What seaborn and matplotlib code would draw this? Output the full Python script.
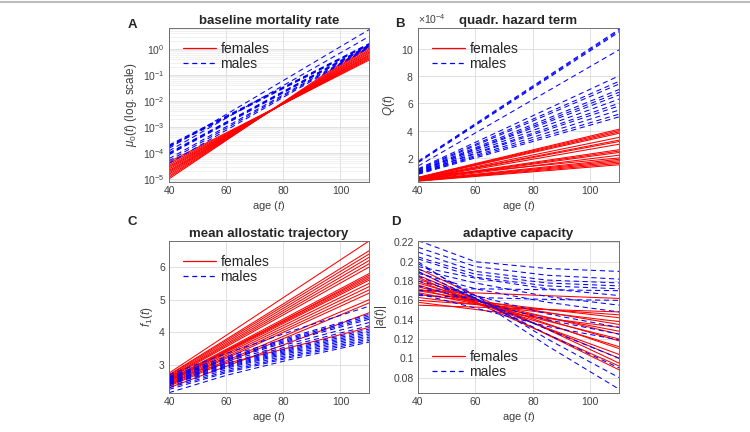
import numpy as np
import pandas as pd
import matplotlib
matplotlib.use("Agg")
import matplotlib.pyplot as plt
import seaborn as sns
from matplotlib.lines import Line2D
from matplotlib.ticker import FixedLocator, LogLocator, NullFormatter, FormatStrFormatter

# ── data (one entry per individual line) ────────────────────────────────────
AGE_2 = [40, 110]
AGE_4 = [40, 60, 85, 110]

# A: baseline mortality rate mu0(t)
mu_fem_start = [1.0e-5, 1.15e-5, 1.3e-5, 1.5e-5, 1.7e-5, 1.9e-5, 2.1e-5,
                2.4e-5, 2.7e-5, 3.0e-5, 3.4e-5, 3.9e-5, 4.5e-5]
mu_fem_end = [1.5, 1.25, 1.1, 0.95, 0.85, 0.75, 0.68,
              0.6, 0.55, 0.5, 0.45, 0.41, 0.37]
mu_male_start = [1.5e-4, 1.2e-4, 2.0e-4, 1.9e-4, 1.8e-4, 1.7e-4, 1.0e-4,
                 9.5e-5, 9.0e-5, 8.5e-5, 6.0e-5, 5.0e-5, 4.0e-5]
mu_male_end = [5.5, 3.0, 1.6, 1.55, 1.5, 1.45, 1.4,
               1.35, 1.3, 1.25, 1.2, 1.15, 1.1]

# B: quadratic hazard term Q(t), in units of 1e-4
q_fem_start = [0.30, 0.32, 0.34, 0.35, 0.37, 0.38, 0.40, 0.42, 0.44,
               0.45, 0.47, 0.48, 0.50, 0.52, 0.54, 0.56, 0.58, 0.60]
q_fem_end = [1.5, 1.6, 1.7, 1.8, 1.9, 2.2, 2.4, 2.5, 2.6,
             3.0, 3.2, 3.3, 3.5, 3.8, 3.9, 4.0, 4.1, 2.0]
q_male_start = [1.75, 1.70, 1.65, 1.40, 1.20, 1.15, 1.10, 1.05, 1.00,
                1.00, 0.95, 0.90, 0.90, 0.85, 0.85, 0.80]
q_male_end = [11.4, 11.3, 11.2, 9.9, 8.0, 7.6, 7.4, 7.0, 6.8,
              6.6, 6.3, 6.0, 5.8, 5.5, 5.2, 5.0]

# C: mean allostatic trajectory f1(t)
f_fem_start = [2.75, 2.70, 2.68, 2.65, 2.62, 2.60, 2.58, 2.55, 2.55, 2.52,
               2.50, 2.48, 2.45, 2.42, 2.40, 2.38, 2.35, 2.30, 2.60, 2.50]
f_fem_end = [6.8, 6.5, 6.4, 6.3, 6.2, 6.1, 6.0, 5.8, 5.7, 5.65,
             5.6, 5.5, 5.4, 5.3, 5.2, 5.0, 4.9, 4.6, 4.15, 5.75]
f_male_40 = [2.70, 2.65, 2.62, 2.60, 2.58, 2.55, 2.52, 2.50,
             2.48, 2.45, 2.42, 2.40, 2.35, 2.30, 2.25, 2.15]
f_male_60 = [3.35, 3.25, 3.20, 3.17, 3.14, 3.10, 3.05, 3.02,
             2.99, 2.96, 2.93, 2.90, 2.85, 2.80, 2.76, 2.68]
f_male_85 = [4.10, 3.92, 3.88, 3.84, 3.80, 3.72, 3.65, 3.58,
             3.54, 3.50, 3.46, 3.42, 3.37, 3.32, 3.28, 3.22]
f_male_110 = [4.80, 4.55, 4.50, 4.45, 4.40, 4.30, 4.20, 4.10,
              4.05, 4.00, 3.95, 3.90, 3.85, 3.80, 3.75, 3.70]

# D: adaptive capacity |a(t)|
a_fem_start = [0.193, 0.190, 0.186, 0.184, 0.182, 0.180, 0.178, 0.176, 0.174,
               0.172, 0.170, 0.168, 0.166, 0.163, 0.160, 0.158, 0.155, 0.170]
a_fem_end = [0.095, 0.088, 0.100, 0.092, 0.110, 0.104, 0.118, 0.112, 0.125,
             0.120, 0.135, 0.128, 0.142, 0.138, 0.145, 0.132, 0.148, 0.162]
a_male_40 = [0.222, 0.215, 0.210, 0.205, 0.203, 0.200, 0.198, 0.195, 0.192,
             0.190, 0.188, 0.185, 0.180, 0.175, 0.170, 0.167, 0.165]
a_male_60 = [0.200, 0.195, 0.190, 0.187, 0.184, 0.162, 0.165, 0.183, 0.178,
             0.162, 0.172, 0.162, 0.165, 0.160, 0.172, 0.152, 0.163]
a_male_85 = [0.193, 0.186, 0.181, 0.178, 0.175, 0.113, 0.120, 0.172, 0.164,
             0.125, 0.158, 0.130, 0.146, 0.140, 0.171, 0.133, 0.161]
a_male_110 = [0.190, 0.182, 0.178, 0.175, 0.172, 0.068, 0.080, 0.165, 0.155,
              0.090, 0.148, 0.100, 0.132, 0.125, 0.170, 0.119, 0.160]

PAL = {"females": "#ff0000", "males": "#0000ff"}
DASH = {"females": "", "males": (5, 3.5)}
GREY = "#404040"
LW = 0.75


def long_table(ages_f, cols_f, ages_m, cols_m, scale=1.0):
    recs = []
    for sex, ages, cols in (("females", ages_f, cols_f), ("males", ages_m, cols_m)):
        for k, vals in enumerate(zip(*cols)):
            for a, v in zip(ages, vals):
                recs.append({"age": a, "value": v * scale, "sex": sex, "line": f"{sex}{k}"})
    return pd.DataFrame(recs)


sns.set_theme(style="whitegrid")
plt.rcParams["font.family"] = ["Liberation Sans", "DejaVu Sans"]
plt.rcParams["mathtext.fontset"] = "custom"
plt.rcParams["mathtext.rm"] = "Liberation Sans"
plt.rcParams["mathtext.it"] = "Liberation Sans:italic"
plt.rcParams["mathtext.bf"] = "Liberation Sans:bold"

fig = plt.figure(figsize=(7.5, 4.32), dpi=100)
W, H = 750, 432


def add_axes(x0, x1, y0, y1):
    return fig.add_axes([x0 / W, 1 - y1 / H, (x1 - x0) / W, (y1 - y0) / H])


axA = add_axes(169, 369, 28, 182)
axB = add_axes(418, 619, 28, 182)
axC = add_axes(169, 369, 241, 393)
axD = add_axes(418, 619, 241, 393)

panels = [
    (axA, long_table(AGE_2, (mu_fem_start, mu_fem_end), AGE_2, (mu_male_start, mu_male_end)),
     "baseline mortality rate", r"$\mu_0(t)$ (log. scale)"),
    (axB, long_table(AGE_2, (q_fem_start, q_fem_end), AGE_2, (q_male_start, q_male_end), 1e-4),
     "quadr. hazard term", r"$Q(t)$"),
    (axC, long_table(AGE_2, (f_fem_start, f_fem_end),
                     AGE_4, (f_male_40, f_male_60, f_male_85, f_male_110)),
     "mean allostatic trajectory", r"$f_1(t)$"),
    (axD, long_table(AGE_2, (a_fem_start, a_fem_end),
                     AGE_4, (a_male_40, a_male_60, a_male_85, a_male_110)),
     "adaptive capacity", r"$|a(t)|$"),
]

for ax, df, title, ylab in panels:
    sns.lineplot(data=df, x="age", y="value", hue="sex", style="sex", units="line",
                 estimator=None, palette=PAL, dashes=DASH, linewidth=LW,
                 legend=False, ax=ax)
    ax.set_xlim(40, 110)
    ax.set_xticks([40, 60, 80, 100])
    ax.set_title(title, fontsize=9.5, fontweight="bold", pad=3)
    ax.set_ylabel(ylab, fontsize=8.5, color=GREY, labelpad=3)
    ax.set_xlabel(r"age ($t$)", fontsize=8, color=GREY, labelpad=2)
    ax.tick_params(labelsize=7.5, colors=GREY, direction="in", length=2.5, width=0.5, pad=3)
    ax.grid(True, which="major", color="#dadada", linewidth=0.6)
    for sp in ax.spines.values():
        sp.set_color("#707070")
        sp.set_linewidth(0.7)
    ax.set_facecolor("white")

# A: log scale with minor grid
axA.set_yscale("log")
axA.set_ylim(7.6e-6, 6.4)
axA.yaxis.set_major_locator(FixedLocator([1e-5, 1e-4, 1e-3, 1e-2, 1e-1, 1e0]))
axA.yaxis.set_minor_locator(LogLocator(base=10, subs=np.arange(2, 10)))
axA.yaxis.set_minor_formatter(NullFormatter())
axA.grid(True, which="minor", axis="y", color="#ebebeb", linewidth=0.5)
axA.tick_params(which="minor", direction="in", length=1.5, width=0.4, colors=GREY)

# B: x10^-4 offset
axB.set_ylim(0.24e-4, 11.5e-4)
axB.set_yticks([2e-4, 4e-4, 6e-4, 8e-4, 10e-4])
axB.ticklabel_format(axis="y", style="sci", scilimits=(-4, -4), useMathText=True)
axB.yaxis.get_offset_text().set_fontsize(7.5)
axB.yaxis.get_offset_text().set_color(GREY)

axC.set_ylim(2.14, 6.8)
axC.set_yticks([3, 4, 5, 6])

axD.set_ylim(0.064, 0.2215)
axD.set_yticks([0.08, 0.10, 0.12, 0.14, 0.16, 0.18, 0.20, 0.22])
axD.yaxis.set_major_formatter(FormatStrFormatter("%g"))

handles = [Line2D([], [], color=PAL["females"], lw=0.9),
           Line2D([], [], color=PAL["males"], lw=0.9, dashes=(4, 3))]
leg_kw = dict(frameon=False, fontsize=10, handlelength=2.4, handletextpad=0.3,
              labelspacing=0.1, borderaxespad=0.6)
for ax in (axA, axB, axC):
    ax.legend(handles, ["females", "males"], loc="upper left", **leg_kw)
axD.legend(handles, ["females", "males"], loc="lower left", **leg_kw)

for letter, (x, y) in zip("ABCD", [(132, 25), (400, 24), (132, 222), (396, 222)]):
    fig.text(x / W, 1 - y / H, letter, fontsize=9.5, fontweight="bold", ha="center", va="center")

# thin grey rule along the top edge
fig.add_artist(Line2D([0, 1], [1 - 1.5 / H, 1 - 1.5 / H], color="#bdbdbd", lw=1.5))

fig.savefig("out.png", dpi=100)
